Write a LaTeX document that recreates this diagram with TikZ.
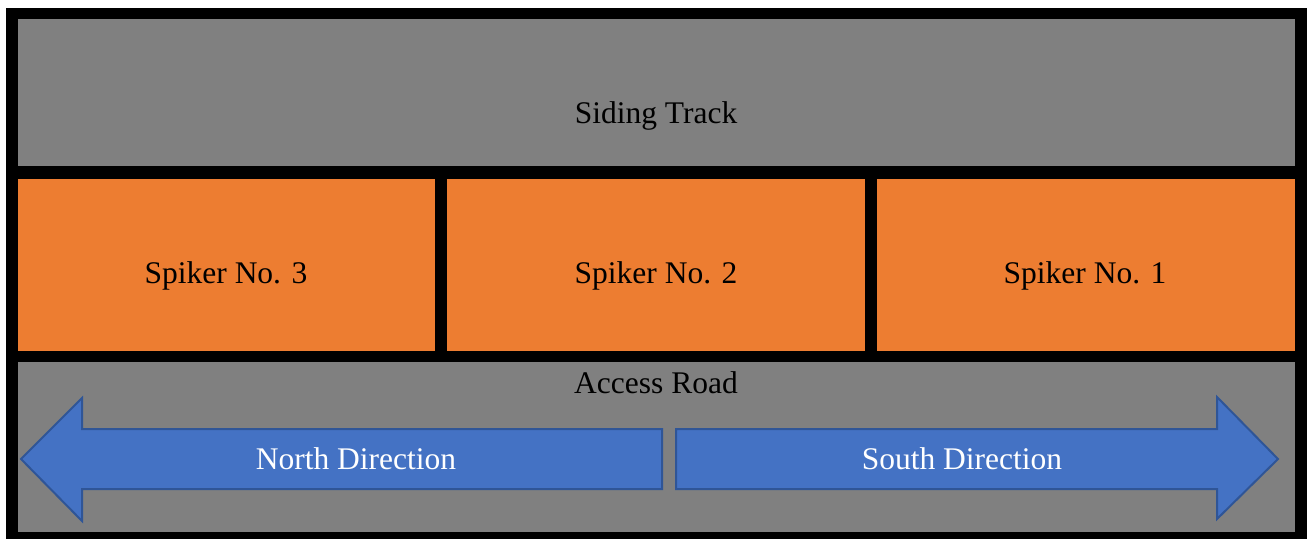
\documentclass[tikz,border=0pt]{standalone}
\usepackage{fontspec}
\setmainfont{Liberation Serif}
\definecolor{graybg}{HTML}{808080}
\definecolor{orangebox}{HTML}{ED7D31}
\definecolor{bluefill}{HTML}{4472C4}
\definecolor{blueline}{HTML}{2F5597}
\tikzset{
  zone/.style={inner sep=0pt, outer sep=0pt, anchor=center},
  graybox/.style={zone, fill=graybg},
  spikerbox/.style={zone, fill=orangebox},
  lbl/.style={inner sep=0pt, anchor=base, font=\fontsize{31.5}{36}\selectfont, text=black},
  wlbl/.style={lbl, text=white},
  dirarrow/.style={fill=bluefill, draw=blueline, line width=2pt, line join=miter}
}
\begin{document}
\begin{tikzpicture}[x=1pt,y=-1pt]
\useasboundingbox (0,0) rectangle (1307,539);
% outer black frame
\fill[black] (6,8) rectangle (1307,539);
% siding track
\node[graybox, minimum width=1277pt, minimum height=147pt] (siding) at (656.5,92.5) {};
\node[lbl] (sidingtxt) at (656,123) {Siding Track};
% spikers
\node[spikerbox, minimum width=417pt, minimum height=172pt] (sp3) at (226.5,265) {};
\node[spikerbox, minimum width=418pt, minimum height=172pt] (sp2) at (656,265) {};
\node[spikerbox, minimum width=418pt, minimum height=172pt] (sp1) at (1086,265) {};
\node[lbl] (sp3txt) at (226,283) {Spiker No. 3};
\node[lbl] (sp2txt) at (656,283) {Spiker No. 2};
\node[lbl] (sp1txt) at (1085,283) {Spiker No. 1};
% access road
\node[graybox, minimum width=1277pt, minimum height=170pt] (road) at (656.5,447) {};
\node[lbl] (roadtxt) at (656,393) {Access Road};
% arrows
\draw[dirarrow] (662,429) -- (82,429) -- (82,398) -- (21,459) -- (82,521) -- (82,489) -- (662,489) -- cycle;
\draw[dirarrow] (676,429) -- (1217,429) -- (1217,397) -- (1278,459) -- (1217,519) -- (1217,489) -- (676,489) -- cycle;
\node[wlbl] (north) at (356,469) {North Direction};
\node[wlbl] (south) at (962,469) {South Direction};
\end{tikzpicture}
\end{document}
